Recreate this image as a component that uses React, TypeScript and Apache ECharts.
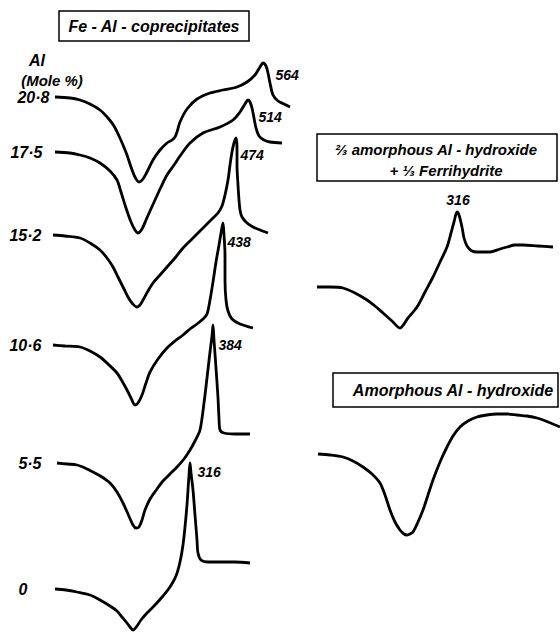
import React, { useEffect, useRef } from "react";
import * as echarts from "echarts";

// Al content (mole %) of the Fe-Al coprecipitates, one DTA trace each
const compositions = ["20·8", "17·5", "15·2", "10·6", "5·5", "0"];
// exothermic peak temperatures (°C) of those traces
const peakTemps = ["564", "514", "474", "438", "384", "316"];
const mixPeak = "316";

// traces: [x, y] in the figure's plotting units
const curve208: [number, number][] = [[55,97],[70,98],[80,100],[90,104],[100,110],[108,118],[114,126],[119,136],[123,145],[127,155],[131,167],[135,177],[139,182],[143,179],[147,172],[153,160],[160,150],[167,143],[172,140],[175,137],[177,132],[180,122],[187,109],[197,99],[210,93],[223,90],[237,87],[247,82],[255,75],[260,67],[263,63],[266,66],[268,73],[270,83],[273,95],[278,101],[284,104],[290,107]];
const curve175: [number, number][] = [[55,152],[70,153],[80,155],[90,158],[100,163],[110,171],[117,180],[121,192],[126,208],[131,222],[135,230],[138,233],[142,229],[146,220],[150,211],[155,200],[161,187],[167,175],[174,165],[180,156],[190,143],[203,133],[220,127],[233,120],[240,112],[245,104],[248,100],[250,102],[252,108],[254,118],[256,128],[259,136],[264,140],[270,142],[282,143]];
const curve152: [number, number][] = [[53,235],[65,236],[80,238],[90,243],[100,250],[107,258],[113,267],[118,277],[123,287],[128,297],[132,303],[137,307],[140,305],[143,300],[148,291],[153,283],[160,275],[167,267],[175,258],[183,248],[192,239],[200,231],[207,224],[213,218],[218,213],[222,206],[225,195],[228,180],[230,165],[232,152],[234,143],[236,138],[237,148],[237,165],[238,185],[239,200],[240,210],[242,217],[247,223],[253,227],[260,230],[268,233]];
const curve106: [number, number][] = [[53,345],[65,346],[80,347],[90,351],[100,357],[108,364],[117,373],[122,381],[127,390],[131,398],[135,405],[138,403],[142,395],[146,383],[150,372],[158,359],[167,348],[175,341],[183,335],[190,329],[197,324],[203,319],[207,314],[210,300],[213,282],[216,262],[219,245],[221,233],[223,223],[224,235],[225,255],[225,280],[226,300],[228,311],[232,319],[240,324],[253,328]];
const curve55: [number, number][] = [[57,463],[67,464],[77,465],[85,468],[93,472],[102,477],[110,483],[117,492],[123,503],[128,514],[133,525],[136,528],[139,527],[142,520],[145,510],[150,499],[157,489],[163,481],[170,474],[177,467],[184,459],[190,450],[195,441],[200,430],[204,403],[207,378],[210,352],[212,336],[213,325],[214,340],[216,368],[218,398],[219,418],[220,430],[224,433],[235,434],[250,434]];
const curve0: [number, number][] = [[55,589],[66,590],[77,592],[90,595],[100,600],[110,606],[117,611],[122,617],[127,623],[130,627],[133,630],[137,626],[141,620],[147,613],[155,605],[163,596],[170,587],[176,576],[180,562],[183,545],[185,527],[187,505],[188,490],[189,475],[190,463],[191,473],[193,490],[195,515],[197,540],[198,553],[201,560],[208,562],[220,562],[235,562],[250,563]];
const mixCurve: [number, number][] = [[317,287],[330,287],[343,288],[355,293],[367,300],[375,306],[383,313],[392,321],[400,328],[408,318],[417,307],[425,292],[433,277],[440,262],[447,247],[451,233],[454,222],[457,212],[459,215],[462,227],[464,238],[467,246],[472,251],[477,252],[490,252],[500,249],[507,247],[515,245],[523,245],[538,246],[553,247]];
const alCurve: [number, number][] = [[318,454],[330,455],[343,457],[353,461],[363,467],[372,474],[380,483],[385,495],[390,510],[395,522],[400,530],[404,534],[407,535],[410,534],[413,532],[418,522],[423,510],[428,495],[433,480],[440,462],[447,447],[453,436],[460,427],[468,421],[477,417],[487,415],[497,414],[507,414],[517,415],[527,416],[537,418],[548,422],[560,427]];

const coprecipCurves = [curve208, curve175, curve152, curve106, curve55, curve0];

// label placement (styles, not data)
const baseLabelDistance = [5, 12, 11, 11, 15, 27];
const peakLabelOffset: [number, number][] = [[12, 12], [10, 17], [4, 17], [4, 19], [5, 20], [7, 9]];

const FONT = '"Liberation Sans", "DejaVu Sans", sans-serif';
const INK = "#000";

function peakIndex(pts: [number, number][]) {
  let best = 0;
  pts.forEach((p, i) => {
    if (p[1] < pts[best][1]) best = i;
  });
  return best;
}

function buildData(
  pts: [number, number][],
  baseLabel: string | null,
  baseDist: number,
  peakLabel: string | null,
  peakPos: "right" | "top",
  peakOff: [number, number]
) {
  const pk = peakIndex(pts);
  return pts.map((p, i) => {
    if (i === 0 && baseLabel) {
      return {
        value: p,
        label: {
          show: true,
          position: "left",
          distance: baseDist,
          formatter: baseLabel,
          fontSize: 16,
          fontStyle: "italic",
          fontWeight: "bold",
          fontFamily: FONT,
          color: INK,
        },
      };
    }
    if (i === pk && peakLabel) {
      return {
        value: p,
        label: {
          show: true,
          position: peakPos,
          distance: peakPos === "top" ? 4 : 0,
          offset: peakOff,
          formatter: peakLabel,
          fontSize: 14,
          fontStyle: "italic",
          fontWeight: "bold",
          fontFamily: FONT,
          color: INK,
        },
      };
    }
    return { value: p };
  });
}

function lineSeries(name: string, data: any[]) {
  return {
    type: "line",
    name,
    data,
    smooth: 0.3,
    symbol: "circle",
    symbolSize: 1,
    showSymbol: true,
    itemStyle: { color: "rgba(0,0,0,0)" },
    lineStyle: { color: INK, width: 2.8 },
    emphasis: { disabled: true },
    silent: true,
    z: 3,
  };
}

export default function App() {
  const ref = useRef<HTMLDivElement>(null);

  useEffect(() => {
    if (!ref.current) return;
    document.body.style.margin = "0";
    const chart = echarts.init(ref.current, null, { renderer: "svg" });

    const series: any[] = coprecipCurves.map((pts, i) =>
      lineSeries(
        compositions[i],
        buildData(pts, compositions[i], baseLabelDistance[i], peakTemps[i], "right", peakLabelOffset[i])
      )
    );
    series.push(lineSeries("mix", buildData(mixCurve, null, 0, mixPeak, "top", [1, -1])));
    series.push(lineSeries("amorphousAl", buildData(alCurve, null, 0, null, "right", [0, 0])));

    const txt = (x: number, y: number, text: string, size: number) => ({
      type: "text",
      x,
      y,
      silent: true,
      style: {
        text,
        fontSize: size,
        fontStyle: "italic",
        fontWeight: "bold",
        fontFamily: FONT,
        fill: INK,
        align: "center",
        verticalAlign: "middle",
      },
    });
    const box = (x: number, y: number, w: number, h: number) => ({
      type: "rect",
      silent: true,
      shape: { x, y, width: w, height: h },
      style: { fill: "none", stroke: INK, lineWidth: 1.5 },
    });

    chart.setOption({
      animation: false,
      backgroundColor: "#fff",
      grid: { left: 0, right: 0, top: 0, bottom: 0 },
      xAxis: { type: "value", min: 0, max: 560, show: false },
      yAxis: { type: "value", min: 0, max: 632, inverse: true, show: false },
      tooltip: { show: false },
      series,
      graphic: [
        box(59, 11, 190, 30),
        txt(154, 26, "Fe - Al - coprecipitates", 16),
        txt(37, 60, "Al", 16),
        txt(52, 80, "(Mole %)", 15),
        box(317, 134, 240, 47),
        txt(436, 149, "⅔ amorphous Al - hydroxide", 15),
        txt(446, 170, "+ ⅓ Ferrihydrite", 15),
        box(333, 373, 225, 34),
        txt(453, 390, "Amorphous Al - hydroxide", 16),
      ],
    });

    return () => chart.dispose();
  }, []);

  return <div ref={ref} style={{ width: 560, height: 632, background: "#fff" }} />;
}
